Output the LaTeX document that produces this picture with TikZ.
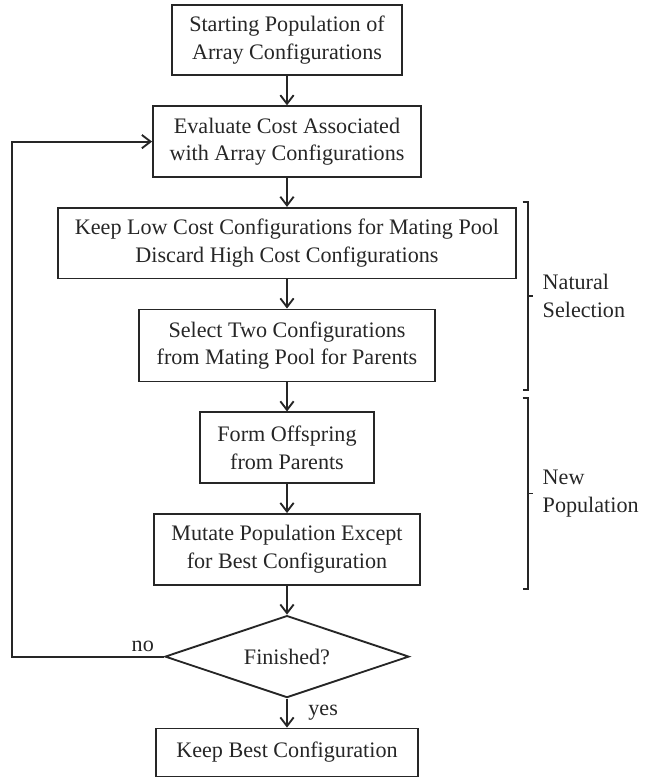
\documentclass[tikz,border=0pt]{standalone}
\usepackage{fontspec}
\setmainfont{Liberation Serif}
\usetikzlibrary{arrows.meta,shapes.geometric,positioning}
\tikzset{arrows={-{Straight Barb[length=6.5pt,width=10pt]}}}
\tikzset{
  block/.style={draw, line width=1.4pt, align=center, minimum height=53pt, inner sep=2pt},
  decision/.style={draw, diamond, aspect=3, line width=1.4pt, inner sep=0pt,
    minimum width=183pt, minimum height=61.5pt},
  bracket/.style={-, line width=1.4pt},
}

\begin{document}
\begin{tikzpicture}[node distance=21.8pt, line width=1.4pt, color=black!85,
    font=\fontsize{16.6}{20.5}\selectfont]
  \useasboundingbox (0,0) rectangle (483.75pt,-583.5pt);

  \node [block, minimum width=173pt] (start) at (215.25pt,-30pt) {Starting Population of\\Array Configurations};
  \node [block, minimum width=201pt] (eval) [below = of start] {Evaluate Cost Associated\\with Array Configurations};
  \node [block, minimum width=343.5pt] (keep) [below = of eval] {Keep Low Cost Configurations for Mating Pool\\Discard High Cost Configurations};
  \node [block, minimum width=222pt, minimum height=54pt] (select) [below = of keep] {Select Two Configurations\\from Mating Pool for Parents};
  \node [block, minimum width=130.5pt] (form) [below = of select] {Form Offspring\\from Parents};
  \node [block, minimum width=199.5pt] (mutate) [below = of form] {Mutate Population Except\\for Best Configuration};
  \node [decision] (finish) [below = of mutate] {Finished?};
  \node [block, minimum width=196pt, minimum height=36pt] (best) [below = of finish] {Keep Best Configuration};

  \path (start) edge (eval)
        (eval) edge (keep)
        (keep) edge (select)
        (select) edge (form)
        (form) edge (mutate)
        (mutate) edge (finish)
        (finish) edge node [right=12pt] {yes} (best);

  % loop back when not finished
  \coordinate (edge) at (9pt,0);
  \draw (finish.west) -- node [above, pos=0.14] {no} (finish.west -| edge) |- (eval.west);

  % side brackets
  \coordinate (nstop) at (396pt,-151.5pt);
  \coordinate (nsbot) at (396pt,-292.5pt);
  \coordinate (nptop) at (396pt,-298.5pt);
  \coordinate (npbot) at (396pt,-441.75pt);
  \path (nstop) -- (nsbot) coordinate [midway] (nsmid);
  \path (nptop) -- (npbot) coordinate [midway] (npmid);

  \draw [bracket] ([xshift=-4pt]nstop) -- (nstop) -- (nsbot) -- ([xshift=-4pt]nsbot);
  \draw [bracket] (nsmid) -- ++(4pt,0);
  \node [right=7pt of nsmid, align=left] (natsel) {Natural\\Selection};

  \draw [bracket] ([xshift=-4pt]nptop) -- (nptop) -- (npbot) -- ([xshift=-4pt]npbot);
  \draw [bracket] (npmid) -- ++(4pt,0);
  \node [right=7pt of npmid, align=left] (newpop) {New\\Population};
\end{tikzpicture}
\end{document}
